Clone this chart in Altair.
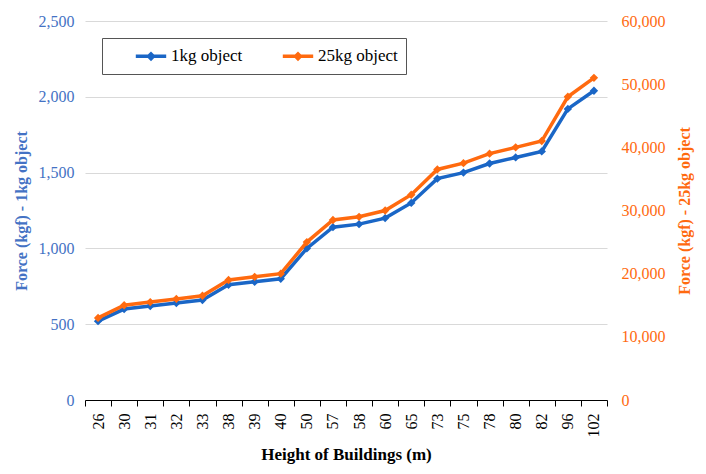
import altair as alt
import pandas as pd

heights = ["26", "30", "31", "32", "33", "38", "39", "40", "50", "57",
           "58", "60", "65", "73", "75", "78", "80", "82", "96", "102"]
force_1kg = [520, 600, 620, 640, 660, 760, 780, 800, 1000, 1140,
             1160, 1200, 1300, 1460, 1500, 1560, 1600, 1640, 1920, 2040]
force_25kg = [13000, 15000, 15500, 16000, 16500, 19000, 19500, 20000, 25000, 28500,
              29000, 30000, 32500, 36500, 37500, 39000, 40000, 41000, 48000, 51000]
series = ["1kg object", "25kg object"]
colors = ["#1A66C6", "#FF6A0F"]
left_ticks = [0, 500, 1000, 1500, 2000, 2500]
right_ticks = [0, 10000, 20000, 30000, 40000, 50000, 60000]

df = pd.DataFrame({"h": heights, "f1": force_1kg, "f25": force_25kg})

FONT = "Liberation Serif"
color_scale = alt.Scale(domain=series, range=colors)

x_enc = alt.X("h:N", sort=heights, title="Height of Buildings (m)",
              scale=alt.Scale(paddingInner=0, paddingOuter=0),
              axis=alt.Axis(labelAngle=270, labelFont=FONT, labelFontSize=16,
                            labelColor="#000000", labelPadding=7,
                            labelBaseline="middle", labelAlign="right",
                            domainColor="#000000", tickColor="#000000",
                            tickSize=6, bandPosition=0, tickBand="extent",
                            grid=False,
                            titleFont=FONT, titleFontSize=17, titleFontWeight="bold",
                            titleColor="#000000", titlePadding=9))

legend = alt.Legend(
    title=None, orient="none", legendX=17, legendY=17, direction="horizontal",
    columns=2, strokeColor="#555555", padding=8, fillColor="#ffffff",
    labelFont=FONT, labelFontSize=17, labelColor="#000000",
    symbolType="M-1.9,0H1.9M0,-0.3L0.3,0L0,0.3L-0.3,0Z", symbolSize=256,
    symbolStrokeWidth=3.5, symbolOffset=31, columnPadding=14, labelOffset=10,
)

point_def = alt.OverlayMarkDef(shape="diamond", filled=True, size=70, opacity=1)

line1 = alt.Chart(df).transform_calculate(s="'1kg object'").mark_line(
    strokeWidth=3.5, point=point_def).encode(
    x=x_enc,
    y=alt.Y("f1:Q", title="Force (kgf) - 1kg object",
            scale=alt.Scale(domain=[0, 2500]),
            axis=alt.Axis(values=left_ticks, format=",.0f", labelFont=FONT,
                          labelFontSize=16, labelColor="#4472C4", labelPadding=11,
                          tickSize=0, domain=False, gridColor="#D9D9D9",
                          titleFont=FONT, titleFontSize=16, titleFontWeight="bold",
                          titleColor="#4472C4", titlePadding=9)),
    color=alt.Color("s:N", scale=color_scale, legend=legend),
)

line2 = alt.Chart(df).transform_calculate(s="'25kg object'").mark_line(
    strokeWidth=3.5, point=point_def).encode(
    x=x_enc,
    y=alt.Y("f25:Q", title="Force (kgf) - 25kg object",
            scale=alt.Scale(domain=[0, 60000]),
            axis=alt.Axis(orient="right", values=right_ticks, format=",.0f",
                          labelFont=FONT, labelFontSize=16, labelColor="#FF6A0F",
                          labelPadding=14, tickSize=0, domain=False, grid=False,
                          titleFont=FONT, titleFontSize=16, titleFontWeight="bold",
                          titleColor="#FF6A0F", titleAngle=270, titlePadding=27)),
    color=alt.Color("s:N", scale=color_scale, legend=legend),
)

chart = alt.layer(line1, line2).resolve_scale(y="independent").properties(
    width=522, height=379, background="#ffffff"
).configure_view(stroke=None).configure_axis(labelFont=FONT, titleFont=FONT)

chart.save("out.html", embed_options={"renderer": "svg", "actions": False})
